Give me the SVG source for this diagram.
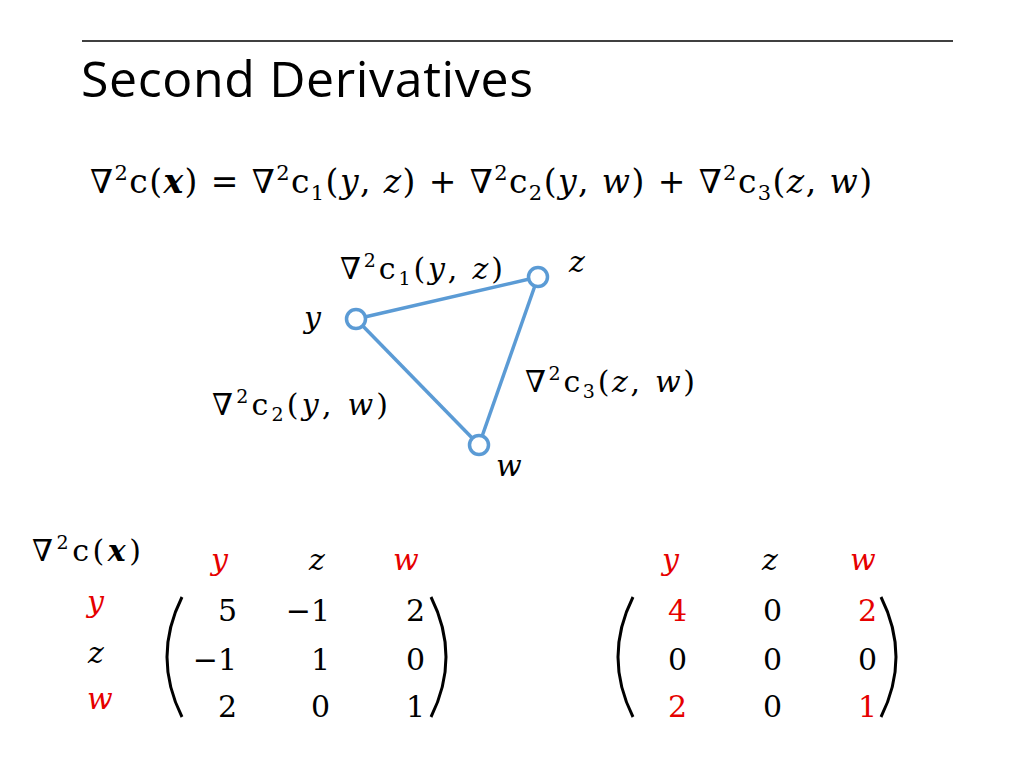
<svg xmlns="http://www.w3.org/2000/svg" width="1024" height="768" viewBox="0 0 1024 768">
<style>
.m{font-family:"DejaVu Serif","Liberation Serif",serif;fill:#000}
.i{font-style:italic}
.bi{font-style:italic;font-weight:bold}
.r{fill:#E60000}
.t{font-family:"Open Sans","Noto Sans",sans-serif;font-size:50px;fill:#000}
.edge{stroke:#5B9BD5;stroke-width:3.5;fill:none}
.node{stroke:#5B9BD5;stroke-width:3.5;fill:#fff}
.par{stroke:#000;stroke-width:3;fill:none}
.num{font-size:30px}
.v{font-size:30px}
</style>
<rect width="1024" height="768" fill="#fff"/>
<line x1="82" y1="41" x2="953" y2="41" stroke="#000" stroke-width="1.5"/>
<text class="t" x="81" y="97" textLength="452">Second Derivatives</text>

<text class="m" x="90" y="193" font-size="33" textLength="782">∇<tspan dy="-13" font-size="21">2</tspan><tspan dy="13">c(</tspan><tspan class="bi">x</tspan>) = ∇<tspan dy="-13" font-size="21">2</tspan><tspan dy="13">c</tspan><tspan dy="7" font-size="21">1</tspan><tspan dy="-7">(</tspan><tspan class="i">y</tspan>, <tspan class="i">z</tspan>) + ∇<tspan dy="-13" font-size="21">2</tspan><tspan dy="13">c</tspan><tspan dy="7" font-size="21">2</tspan><tspan dy="-7">(</tspan><tspan class="i">y</tspan>, <tspan class="i">w</tspan>) + ∇<tspan dy="-13" font-size="21">2</tspan><tspan dy="13">c</tspan><tspan dy="7" font-size="21">3</tspan><tspan dy="-7">(</tspan><tspan class="i">z</tspan>, <tspan class="i">w</tspan>)</text>

<g id="connectors">
<line class="edge" x1="356" y1="319" x2="538" y2="277"/>
<line class="edge" x1="356" y1="319" x2="479" y2="445"/>
<line class="edge" x1="538" y1="277" x2="479" y2="445"/>
</g>
<g id="node-y">
<circle class="node" cx="356" cy="319" r="9.5"/>
<text class="m i v" x="304" y="328">y</text>
</g>
<g id="node-z">
<circle class="node" cx="538" cy="277" r="9.5"/>
<text class="m i v" x="569" y="272">z</text>
</g>
<g id="node-w">
<circle class="node" cx="479" cy="445" r="9.5"/>
<text class="m i v" x="496" y="476">w</text>
</g>
<g id="edge-labels">
<text class="m" x="340" y="279" font-size="30" textLength="163">∇<tspan dy="-12" font-size="19">2</tspan><tspan dy="12">c</tspan><tspan dy="6" font-size="19">1</tspan><tspan dy="-6">(</tspan><tspan class="i">y</tspan>, <tspan class="i">z</tspan>)</text>
<text class="m" x="212" y="415" font-size="30" textLength="176">∇<tspan dy="-12" font-size="19">2</tspan><tspan dy="12">c</tspan><tspan dy="6" font-size="19">2</tspan><tspan dy="-6">(</tspan><tspan class="i">y</tspan>, <tspan class="i">w</tspan>)</text>
<text class="m" x="525" y="392" font-size="30" textLength="170">∇<tspan dy="-12" font-size="19">2</tspan><tspan dy="12">c</tspan><tspan dy="6" font-size="19">3</tspan><tspan dy="-6">(</tspan><tspan class="i">z</tspan>, <tspan class="i">w</tspan>)</text>
</g>

<g id="matrix-left">
<text class="m" x="32" y="561" font-size="30" textLength="109">∇<tspan dy="-12" font-size="19">2</tspan><tspan dy="12">c(</tspan><tspan class="bi">x</tspan>)</text>
<text class="m i r v" x="211" y="570">y</text>
<text class="m i v" x="309" y="570">z</text>
<text class="m i r v" x="393" y="570">w</text>
<text class="m i r v" x="87" y="612">y</text>
<text class="m i v" x="88" y="663">z</text>
<text class="m i r v" x="87" y="709">w</text>
<path class="par" d="M182,597 Q152,657 182,717"/>
<path class="par" d="M431,597 Q461,657 431,717"/>
<g class="m num" text-anchor="end">
<text x="237" y="621">5</text><text x="330" y="621">−1</text><text x="425" y="621">2</text>
<text x="237" y="670">−1</text><text x="330" y="670">1</text><text x="425" y="670">0</text>
<text x="237" y="717">2</text><text x="330" y="717">0</text><text x="425" y="717">1</text>
</g>
</g>

<g id="matrix-right">
<text class="m i r v" x="662" y="570">y</text>
<text class="m i v" x="762" y="570">z</text>
<text class="m i r v" x="850" y="570">w</text>
<path class="par" d="M633,597 Q603,657 633,717"/>
<path class="par" d="M881,597 Q911,657 881,717"/>
<g class="m num" text-anchor="end">
<text class="r" x="687" y="621">4</text><text x="782" y="621">0</text><text class="r" x="877" y="621">2</text>
<text x="687" y="670">0</text><text x="782" y="670">0</text><text x="877" y="670">0</text>
<text class="r" x="687" y="717">2</text><text x="782" y="717">0</text><text class="r" x="877" y="717">1</text>
</g>
</g>
</svg>
